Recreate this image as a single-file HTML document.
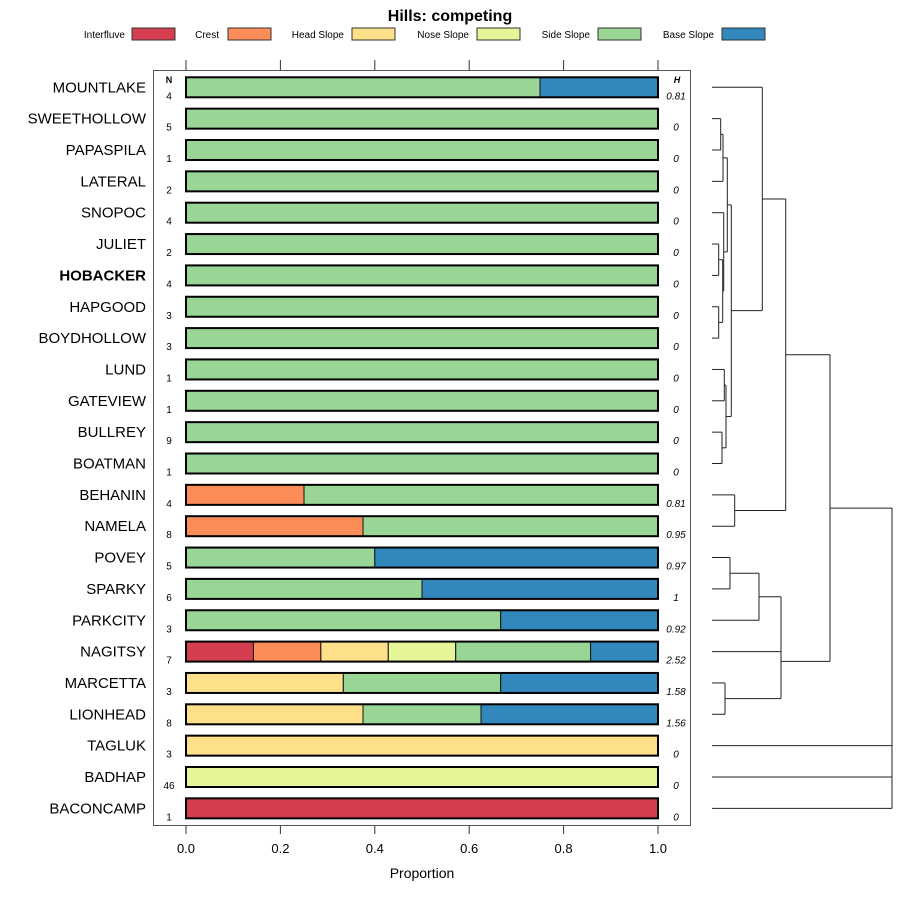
<!DOCTYPE html>
<html><head><meta charset="utf-8"><style>
body{margin:0;background:#fff}
svg{display:block;font-family:"Liberation Sans",sans-serif}
</style></head><body>
<svg id="c" width="900" height="900"></svg>
<script>
const sites=["MOUNTLAKE","SWEETHOLLOW","PAPASPILA","LATERAL","SNOPOC","JULIET","HOBACKER","HAPGOOD","BOYDHOLLOW","LUND","GATEVIEW","BULLREY","BOATMAN","BEHANIN","NAMELA","POVEY","SPARKY","PARKCITY","NAGITSY","MARCETTA","LIONHEAD","TAGLUK","BADHAP","BACONCAMP"];
const classes=["Interfluve","Crest","Head Slope","Nose Slope","Side Slope","Base Slope"];
const colors=["#D53E4F","#FC8D59","#FEE08B","#E6F598","#99D594","#3288BD"];
const interfluve=[0,0,0,0,0,0,0,0,0,0,0,0,0,0,0,0,0,0,1/7,0,0,0,0,1];
const crest=[0,0,0,0,0,0,0,0,0,0,0,0,0,0.25,0.375,0,0,0,1/7,0,0,0,0,0];
const headSlope=[0,0,0,0,0,0,0,0,0,0,0,0,0,0,0,0,0,0,1/7,1/3,0.375,1,0,0];
const noseSlope=[0,0,0,0,0,0,0,0,0,0,0,0,0,0,0,0,0,0,1/7,0,0,0,1,0];
const sideSlope=[0.75,1,1,1,1,1,1,1,1,1,1,1,1,0.75,0.625,0.4,0.5,2/3,2/7,1/3,0.25,0,0,0];
const baseSlope=[0.25,0,0,0,0,0,0,0,0,0,0,0,0,0,0,0.6,0.5,1/3,1/7,1/3,0.375,0,0,0];
const nVals=[4,5,1,2,4,2,4,3,3,1,1,9,1,4,8,5,6,3,7,3,8,3,46,1];
const hVals=["0.81","0","0","0","0","0","0","0","0","0","0","0","0","0.81","0.95","0.97","1","0.92","2.52","1.58","1.56","0","0","0"];
const xTicks=[0,0.2,0.4,0.6,0.8,1.0];
const merges=[[1,2,720.7],[24,3,723],[5,6,718.7],[7,8,718.7],[26,27,722.7],[4,28,723.7],[25,29,727.3],[9,10,724.3],[11,12,722],[31,32,726],[30,33,731.3],[0,34,762.3],[13,14,734.7],[35,36,785.7],[15,16,730],[38,17,759],[19,20,725],[39,18,781],[41,40,781],[37,42,830],[43,21,892],[44,22,892],[45,23,892]];

const svg=document.getElementById('c');const NS="http://www.w3.org/2000/svg";
function mk(t,a,txt){const e=document.createElementNS(NS,t);for(const k in a)e.setAttribute(k,a[k]);if(txt!==undefined)e.textContent=txt;svg.appendChild(e);return e;}
const X=v=>186+v*472;const Y=i=>87.3+i*31.35;
let t=mk('text',{x:450,y:21,'text-anchor':'middle','font-size':16,'font-weight':'bold'},'Hills: competing');

const lgTx=[125,219,344,469,590,714],lgBx=[132,228,352,477,598,722];
classes.forEach((c,k)=>{
 let g=mk('text',{x:lgTx[k],y:38,'text-anchor':'end','font-size':10},c);
 
 let r=mk('rect',{x:lgBx[k],y:28,width:43,height:12,fill:colors[k],stroke:'#333','stroke-width':1});
 
});
let fr=mk('rect',{x:153.5,y:70.5,width:537,height:755,fill:'none',stroke:'#555','stroke-width':1});

xTicks.forEach(v=>{
 mk('line',{x1:X(v),x2:X(v),y1:60,y2:70,stroke:'#333'});
 mk('line',{x1:X(v),x2:X(v),y1:826,y2:834,stroke:'#333'});
 let l=mk('text',{x:X(v),y:853,'text-anchor':'middle','font-size':13},v.toFixed(1));
 
});
let xt=mk('text',{x:422,y:878,'text-anchor':'middle','font-size':14},'Proportion');

mk('text',{x:169,y:83,'text-anchor':'middle','font-size':9,'font-weight':'bold'},'N');
mk('text',{x:677,y:83,'text-anchor':'middle','font-size':9,'font-weight':'bold','font-style':'italic'},'H');
const series=[interfluve,crest,headSlope,noseSlope,sideSlope,baseSlope];
sites.forEach((s,i)=>{
 const y=Y(i);
 let l=mk('text',{x:146,y:y+5,'text-anchor':'end','font-size':15,'font-weight':s==='HOBACKER'?'bold':'normal'},s);
 
 mk('text',{x:169,y:y+12,'text-anchor':'middle','font-size':10},nVals[i]);
 mk('text',{x:676,y:y+12,'text-anchor':'middle','font-size':10,'font-style':'italic'},hVals[i]);
 let acc=0;
 series.forEach((arr,k)=>{const v=arr[i];if(v>0){
  let r=mk('rect',{x:X(acc),y:y-10,width:X(acc+v)-X(acc),height:20,fill:colors[k],stroke:'#111','stroke-width':1});
  
  acc+=v;}});
 let o=mk('rect',{x:X(0),y:y-10,width:X(1)-X(0),height:20,fill:'none',stroke:'#000','stroke-width':2});
 
});
const ny={},nx={};sites.forEach((s,i)=>{ny[i]=Y(i);nx[i]=712;});
merges.forEach((m,j)=>{
 const id=24+j,[a,b,h]=m;
 mk('line',{x1:nx[a],x2:h,y1:ny[a],y2:ny[a],stroke:'#222'});
 mk('line',{x1:nx[b],x2:h,y1:ny[b],y2:ny[b],stroke:'#222'});
 let v=mk('line',{x1:h,x2:h,y1:ny[a],y2:ny[b],stroke:'#222'});
 
 ny[id]=(ny[a]+ny[b])/2;nx[id]=h;
});
</script>
</body></html>
